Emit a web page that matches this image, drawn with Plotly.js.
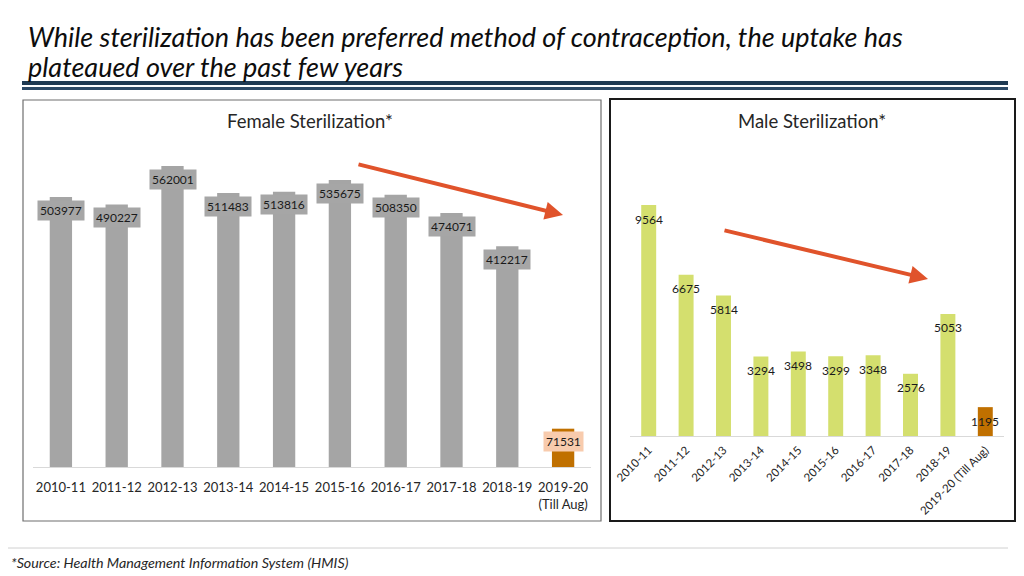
<!DOCTYPE html>
<html>
<head>
<meta charset="utf-8">
<script src="https://cdn.plot.ly/plotly-3.0.1.min.js"></script>
<style>html,body{margin:0;padding:0;background:#fff;}#chart{width:1024px;height:576px;}</style>
</head>
<body>
<div id="chart"></div>
<script>
const categories = ['2010-11','2011-12','2012-13','2013-14','2014-15','2015-16','2016-17','2017-18','2018-19','2019-20'];
const femaleTickLabels = ['2010-11','2011-12','2012-13','2013-14','2014-15','2015-16','2016-17','2017-18','2018-19','2019-20<br>(Till Aug)'];
const maleTickLabels = ['2010-11','2011-12','2012-13','2013-14','2014-15','2015-16','2016-17','2017-18','2018-19','2019-20 (Till Aug)'];
const femaleValues = [503977, 490227, 562001, 511483, 513816, 535675, 508350, 474071, 412217, 71531];
const maleValues = [9564, 6675, 5814, 3294, 3498, 3299, 3348, 2576, 5053, 1195];
const titleLines = ['While sterilization has been preferred method of contraception, the uptake has', 'plateaued over the past few years'];

const FONT = 'Lato, "Open Sans", sans-serif';
const W = 1024, H = 576;
const px = v => v / W;
const py = v => 1 - v / H;

const femaleColors = categories.map((c, i) => i === categories.length - 1 ? '#c07000' : '#a5a5a5');
const maleColors = categories.map((c, i) => i === categories.length - 1 ? '#c07000' : '#d4df6e');

const traces = [
  {type:'bar', x:categories, y:femaleValues, xaxis:'x', yaxis:'y', marker:{color:femaleColors}, hoverinfo:'skip', showlegend:false},
  {type:'bar', x:categories, y:maleValues, xaxis:'x2', yaxis:'y2', marker:{color:maleColors}, hoverinfo:'skip', showlegend:false}
];

const annotations = [];
// Title (two lines)
[36, 67].forEach((yy, i) => {
  annotations.push({xref:'paper', yref:'paper', x:px(26), y:py(yy), xanchor:'left', yanchor:'middle', align:'left', showarrow:false,
    text:'<i>' + titleLines[i] + '</i>', font:{family:FONT, size:27, color:'#0d0d0d'}});
});
// Panel titles
annotations.push({xref:'paper', yref:'paper', x:px(310), y:py(121), xanchor:'center', yanchor:'middle', showarrow:false,
  text:'Female Sterilization*', font:{family:FONT, size:18.5, color:'#262626'}});
annotations.push({xref:'paper', yref:'paper', x:px(812), y:py(121), xanchor:'center', yanchor:'middle', showarrow:false,
  text:'Male Sterilization*', font:{family:FONT, size:18.5, color:'#262626'}});
// Footer
annotations.push({xref:'paper', yref:'paper', x:px(9), y:py(562), xanchor:'left', yanchor:'middle', showarrow:false,
  text:'<i>*Source: Health Management Information System (HMIS)</i>', font:{family:FONT, size:14.3, color:'#262626'}});
// Female data labels
femaleValues.forEach((v, i) => {
  const last = i === femaleValues.length - 1;
  annotations.push({xref:'x', yref:'y', x:categories[i], y:v, yshift:-13, yanchor:'middle', showarrow:false,
    text:String(v), font:{family:FONT, size:12, color:'#1a1a1a'},
    bgcolor: last ? '#f8cbad' : '#a6a6a6', borderpad:2});
});
// Male data labels
maleValues.forEach((v, i) => {
  annotations.push({xref:'x2', yref:'y2', x:categories[i], y:v, yshift:-14, yanchor:'middle', showarrow:false,
    text:String(v), font:{family:FONT, size:12, color:'#1a1a1a'}});
});
// Trend arrows
annotations.push({xref:'paper', yref:'paper', x:px(563), y:py(215), axref:'pixel', ayref:'pixel', ax:-206, ay:-51,
  text:'', showarrow:true, arrowhead:2, arrowsize:0.9, arrowwidth:4, arrowcolor:'#e0532b'});
annotations.push({xref:'paper', yref:'paper', x:px(928), y:py(279), axref:'pixel', ayref:'pixel', ax:-205, ay:-49,
  text:'', showarrow:true, arrowhead:2, arrowsize:0.9, arrowwidth:4, arrowcolor:'#e0532b'});

const shapes = [
  {type:'line', xref:'paper', yref:'paper', x0:px(22), x1:px(1008), y0:py(83), y1:py(83), line:{color:'#1f3a52', width:4}},
  {type:'line', xref:'paper', yref:'paper', x0:px(22), x1:px(1008), y0:py(88.5), y1:py(88.5), line:{color:'#2d4a66', width:3}},
  {type:'rect', xref:'paper', yref:'paper', x0:px(23), x1:px(601), y0:py(100), y1:py(521), line:{color:'#6f6f6f', width:1.2}, layer:'below'},
  {type:'rect', xref:'paper', yref:'paper', x0:px(610), x1:px(1015), y0:py(99), y1:py(521), line:{color:'#1a1a1a', width:2}, layer:'below'},
  {type:'line', xref:'paper', yref:'paper', x0:px(8), x1:px(1008), y0:py(548), y1:py(548), line:{color:'#d0d0d0', width:1}}
];

const layout = {
  width:W, height:H,
  margin:{l:0, r:0, t:0, b:0},
  paper_bgcolor:'#ffffff', plot_bgcolor:'rgba(0,0,0,0)',
  bargap:0.6,
  showlegend:false,
  xaxis:{domain:[px(33), px(591)], anchor:'y', type:'category', tickvals:categories, ticktext:femaleTickLabels,
    showline:true, linecolor:'#d9d9d9', linewidth:1, ticks:'', showgrid:false, zeroline:false, fixedrange:true,
    tickfont:{family:FONT, size:13, color:'#262626'}, ticklabelstandoff:8},
  yaxis:{domain:[py(467), py(140)], anchor:'x', range:[0, 610550], visible:false, fixedrange:true},
  xaxis2:{domain:[px(630), px(1004)], anchor:'y2', type:'category', tickvals:categories, ticktext:maleTickLabels,
    showline:true, linecolor:'#d9d9d9', linewidth:1, ticks:'', showgrid:false, zeroline:false, fixedrange:true,
    tickangle:-45, tickfont:{family:FONT, size:11.5, color:'#262626'}, ticklabelstandoff:2},
  yaxis2:{domain:[py(436), py(150)], anchor:'x2', range:[0, 11841], visible:false, fixedrange:true},
  annotations:annotations,
  shapes:shapes
};

Plotly.newPlot('chart', traces, layout, {staticPlot:true, displayModeBar:false});
</script>
</body>
</html>
